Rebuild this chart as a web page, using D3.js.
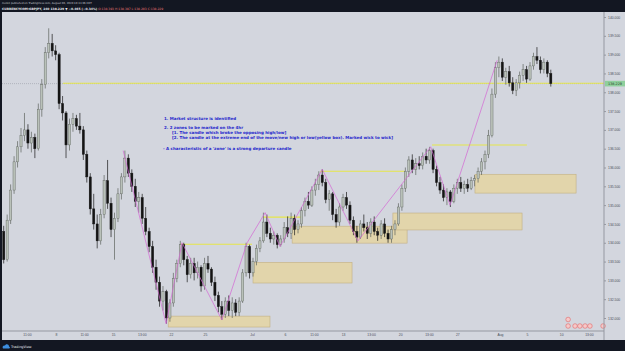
<!DOCTYPE html>
<html>
<head>
<meta charset="utf-8">
<script src="https://cdn.jsdelivr.net/npm/d3@7/dist/d3.min.js"></script>
<style>
  body { margin: 0; background: #131722; }
  svg { display: block; font-family: "DejaVu Sans", Verdana, sans-serif; }
  .axis text { fill: #4a4e59; }
  .axis line, .axis path { stroke: #9598a1; }
</style>
</head>
<body>
<div id="chart"></div>
<script>
// GBPJPY 4h (open = previous close)
const firstOpen = 134.30;
const closes = [
  133.55, 134.60, 135.40, 136.15, 136.55, 136.85, 137.00, 136.65, 136.80, 136.50,
  137.55, 138.20, 139.05, 139.30, 139.10, 139.00, 137.70, 137.45, 136.60, 137.15,
  137.30, 137.10, 137.00, 136.35, 135.75, 134.90, 134.50, 134.05, 134.75, 135.65,
  135.05, 134.35, 134.65, 135.30, 135.75, 136.25, 135.85, 135.50, 135.10, 135.20,
  134.65, 134.30, 133.90, 133.35, 132.95, 132.45, 132.70, 132.00, 132.40, 133.05,
  133.45, 133.95, 133.55, 133.15, 133.45, 133.20, 133.35, 132.85, 133.45, 133.30,
  132.95, 132.60, 132.30, 132.10, 132.45, 132.20, 132.40, 132.15, 132.45, 133.20,
  133.90, 133.20, 133.50, 133.85, 134.05, 134.55, 134.25, 134.10, 134.20, 133.95,
  134.10, 134.40, 134.25, 134.65, 134.35, 134.50, 134.85, 135.10, 135.00, 135.40,
  135.55, 135.80, 135.60, 135.15, 135.30, 134.75, 134.55, 134.95, 135.20, 135.00,
  134.60, 134.30, 134.15, 134.50, 134.40, 134.25, 134.55, 134.30, 134.20, 134.50,
  134.25, 134.10, 134.35, 134.50, 134.95, 135.45, 135.90, 136.20, 135.95, 136.10,
  136.05, 136.30, 136.20, 136.45, 135.95, 135.60, 135.40, 135.20, 135.35, 135.10,
  135.45, 135.60, 135.45, 135.55, 135.45, 135.65, 135.70, 135.90, 136.15, 136.35,
  136.85, 137.95, 138.65, 138.80, 138.40, 138.55, 138.25, 138.05, 138.25, 138.45,
  138.60, 138.35, 138.70, 138.95, 138.85, 138.60, 138.80, 138.50, 138.23
];
const highs = [
  134.45, 134.75, 135.55, 136.30, 136.70, 137.05, 137.45, 137.15, 136.95, 136.90,
  137.70, 138.35, 139.20, 139.70, 139.55, 139.25, 139.05, 137.90, 137.50, 137.30,
  137.45, 137.40, 137.45, 137.10, 136.45, 135.85, 135.30, 134.75, 134.90, 135.80,
  136.20, 135.20, 134.80, 135.45, 135.85, 136.45, 136.35, 135.95, 135.70, 135.35,
  135.30, 134.95, 134.40, 134.05, 133.55, 133.10, 132.85, 132.75, 132.50, 133.20,
  133.55, 134.05, 134.00, 133.65, 133.60, 133.60, 133.50, 133.40, 133.60, 133.65,
  133.35, 133.10, 132.70, 132.45, 132.55, 132.60, 132.55, 132.50, 132.55, 133.30,
  134.00, 133.95, 133.60, 133.95, 134.15, 134.80, 134.75, 134.40, 134.30, 134.25,
  134.20, 134.55, 134.70, 134.80, 134.75, 134.60, 134.95, 135.20, 135.35, 135.50,
  135.70, 135.90, 135.95, 135.70, 135.40, 135.35, 134.90, 135.05, 135.30, 135.35,
  135.10, 134.70, 134.45, 134.60, 134.75, 134.55, 134.65, 134.70, 134.40, 134.60,
  134.65, 134.35, 134.45, 134.60, 135.05, 135.55, 136.00, 136.30, 136.35, 136.25,
  136.30, 136.40, 136.50, 136.55, 136.50, 136.05, 135.75, 135.55, 135.45, 135.40,
  135.55, 135.70, 135.75, 135.65, 135.70, 135.75, 135.80, 136.00, 136.25, 136.45,
  137.00, 138.10, 138.80, 138.95, 138.90, 138.65, 138.70, 138.40, 138.35, 138.55,
  138.75, 138.70, 138.80, 139.05, 139.20, 138.95, 138.90, 138.85, 138.60
];
const lows = [
  133.45, 133.50, 134.50, 135.30, 136.00, 136.40, 136.70, 136.50, 136.40, 136.25,
  136.45, 137.35, 138.10, 138.90, 138.95, 138.85, 137.55, 137.25, 136.25, 136.45,
  136.95, 137.00, 136.90, 136.20, 135.60, 134.75, 134.35, 133.85, 133.95, 134.65,
  134.90, 134.15, 133.55, 134.55, 135.15, 135.60, 135.75, 135.35, 134.95, 134.80,
  134.50, 134.20, 133.75, 133.20, 132.75, 132.30, 132.20, 131.85, 131.90, 132.30,
  132.95, 133.35, 133.40, 132.95, 133.05, 133.00, 133.05, 132.70, 132.75, 133.20,
  132.85, 132.45, 132.15, 131.95, 132.00, 132.05, 132.00, 132.05, 132.05, 132.40,
  133.10, 133.05, 133.10, 133.40, 133.75, 134.00, 134.15, 134.00, 133.95, 133.85,
  133.90, 134.00, 134.15, 134.10, 134.20, 134.25, 134.40, 134.70, 134.90, 134.95,
  135.25, 135.40, 135.50, 135.05, 134.85, 134.60, 134.40, 134.45, 134.85, 134.90,
  134.50, 134.20, 134.00, 134.10, 134.30, 134.10, 134.15, 134.20, 134.05, 134.10,
  134.15, 134.00, 134.00, 134.20, 134.45, 134.85, 135.35, 135.75, 135.85, 135.80,
  135.95, 135.95, 136.10, 136.10, 135.85, 135.50, 135.30, 135.10, 135.00, 134.95,
  135.05, 135.30, 135.35, 135.30, 135.35, 135.40, 135.50, 135.60, 135.80, 135.95,
  136.25, 136.80, 137.85, 138.40, 138.30, 138.20, 138.15, 137.95, 137.90, 138.10,
  138.30, 138.25, 138.30, 138.60, 138.75, 138.50, 138.50, 138.40, 138.15
];

const lastPrice = 138.229;
const priceTicks = [132, 132.5, 133, 133.5, 134, 134.5, 135, 135.5, 136, 136.5, 137, 137.5, 138, 138.5, 139, 139.5, 140];
const timeTicks = [6.7, 15.1, 23.2, 31.6, 39.9, 48.3, 58.1, 71.7, 81.2, 89.6, 98.0, 106.1, 114.5, 122.8, 131.0, 143.3, 151.1, 161.0, 169.0];
const timeLabels = ['11:00', '8', '11:00', '15', '13:00', '22', '25', 'Jul', '6', '11:00', '13', '13:00', '20', '13:00', '27', 'Aug', '5', '10', '13:00'];

// drawings: [fromIndex, toIndex, topPrice, bottomPrice]
const zones = [
  [47.5, 76.9, 132.05, 131.76],
  [72.0, 100.6, 133.48, 132.93],
  [83.3, 116.5, 134.44, 133.99],
  [112.4, 149.7, 134.79, 134.34],
  [136.1, 165.3, 135.82, 135.32]
];
// [fromIndex, toIndex, price]
const levels = [
  [17.1, 173.4, 138.24],
  [50.9, 71.7, 133.96],
  [74.9, 86.2, 134.68],
  [91.4, 115.9, 135.90],
  [123.7, 151.1, 136.60]
];
// [index, price]
const swings = [
  [34.5, 136.45], [46.9, 131.85], [51.5, 134.00], [63.0, 131.95], [70.3, 134.00],
  [75.5, 134.80], [79.8, 133.90], [92.0, 135.95], [102.3, 134.05], [123.3, 136.55],
  [128.9, 135.00], [142.5, 138.85]
];
const events = [163.0, 165.0, 166.4, 167.9, 169.3, 173.1];

const notes = [
  '1. Market structure is identified',
  '2. 2 zones to be marked on the 4hr',
  '[1. The candle which broke the opposing high/low]',
  '[2. The candle at the extreme end of the move/new high or low(yellow box). Marked wick to wick]',
  '- A characteristic of a \'zone\' is a strong departure candle'
];

const width = 625, height = 351;
const plot = {left: 2, right: 604, top: 12, bottom: 331};

const candles = closes.map((c, i) => ({
  i: i,
  o: i === 0 ? firstOpen : closes[i - 1],
  h: highs[i],
  l: lows[i],
  c: c
}));

const x = d3.scaleLinear().domain([0, 158]).range([3.7, 550.8]);
const y = d3.scaleLinear().domain([132, 140]).range([318, 17]);

const svg = d3.select('#chart')
  .append('svg')
  .attr('width', width)
  .attr('height', height);

// frame
svg.append('rect').attr('width', width).attr('height', height).attr('fill', '#131722');
svg.append('rect')
  .attr('x', plot.left).attr('y', plot.top)
  .attr('width', width - plot.left).attr('height', 340 - plot.top)
  .attr('fill', '#d3d6de');

svg.append('defs').append('clipPath').attr('id', 'clip')
  .append('rect')
  .attr('x', plot.left).attr('y', plot.top)
  .attr('width', plot.right - plot.left).attr('height', plot.bottom - plot.top);

const main = svg.append('g').attr('clip-path', 'url(#clip)');

// current price line
main.append('line')
  .attr('x1', plot.left).attr('x2', plot.right)
  .attr('y1', y(lastPrice)).attr('y2', y(lastPrice))
  .attr('stroke', '#9a9ea8').attr('stroke-width', 0.6)
  .attr('stroke-dasharray', '1,1');

// zones
main.selectAll('.zone')
  .data(zones)
  .enter().append('rect')
  .attr('class', 'zone')
  .attr('x', d => x(d[0]))
  .attr('y', d => y(d[2]))
  .attr('width', d => x(d[1]) - x(d[0]))
  .attr('height', d => y(d[3]) - y(d[2]))
  .attr('fill', '#e2d5ab')
  .attr('stroke', '#c2b083')
  .attr('stroke-width', 0.6);

// levels
main.selectAll('.level')
  .data(levels)
  .enter().append('line')
  .attr('class', 'level')
  .attr('x1', d => x(d[0])).attr('x2', d => x(d[1]))
  .attr('y1', d => y(d[2])).attr('y2', d => y(d[2]))
  .attr('stroke', '#e6e64a')
  .attr('stroke-width', 1.1);

// candles
const candle = main.selectAll('.candle')
  .data(candles)
  .enter().append('g')
  .attr('class', 'candle');

candle.append('line')
  .attr('x1', d => x(d.i)).attr('x2', d => x(d.i))
  .attr('y1', d => y(d.h)).attr('y2', d => y(d.l))
  .attr('stroke', d => d.c >= d.o ? '#5d635d' : '#1a1a1a')
  .attr('stroke-width', 0.7);

candle.append('rect')
  .attr('x', d => x(d.i) - 1.1)
  .attr('y', d => y(Math.max(d.o, d.c)))
  .attr('width', 2.2)
  .attr('height', d => Math.max(0.7, Math.abs(y(d.o) - y(d.c))))
  .attr('fill', d => d.c >= d.o ? '#b9c1b9' : '#141414')
  .attr('stroke', d => d.c >= d.o ? '#5d635d' : '#141414')
  .attr('stroke-width', 0.4);

// market structure zigzag
main.append('path')
  .datum(swings)
  .attr('fill', 'none')
  .attr('stroke', '#d466d4')
  .attr('stroke-width', 0.7)
  .attr('d', d3.line().x(d => x(d[0])).y(d => y(d[1])));

// notes
const noteX = [164, 164, 172, 172, 163];
const noteY = [119.5, 128.5, 133.5, 139, 149.5];
svg.append('g')
  .selectAll('text')
  .data(notes)
  .enter().append('text')
  .attr('x', (d, i) => noteX[i])
  .attr('y', (d, i) => noteY[i])
  .attr('font-size', 4)
  .attr('font-weight', 'bold')
  .attr('fill', '#2626cc')
  .text(d => d);

// events
svg.append('g')
  .selectAll('circle')
  .data(events)
  .enter().append('circle')
  .attr('cx', d => x(d))
  .attr('cy', 326)
  .attr('r', 2.3)
  .attr('fill', '#f6c9c9')
  .attr('stroke', '#e06666')
  .attr('stroke-width', 0.6);
svg.append('circle')
  .attr('cx', x(events[0])).attr('cy', 319.5).attr('r', 2.3)
  .attr('fill', '#f6c9c9').attr('stroke', '#e06666').attr('stroke-width', 0.6);

// axes
const yAxis = svg.append('g')
  .attr('class', 'axis')
  .attr('transform', 'translate(' + plot.right + ',0)')
  .call(d3.axisRight(y).tickValues(priceTicks).tickFormat(d3.format('.3f')).tickSize(2).tickPadding(2));
yAxis.select('.domain').attr('d', 'M0,' + plot.top + 'V340');
yAxis.selectAll('text').attr('font-size', 3.4);

const xAxis = svg.append('g')
  .attr('class', 'axis')
  .attr('transform', 'translate(0,' + plot.bottom + ')')
  .call(d3.axisBottom(x).tickValues(timeTicks).tickFormat((d, i) => timeLabels[i]).tickSize(0).tickPadding(3));
xAxis.select('.domain').attr('d', 'M' + plot.left + ',0H' + plot.right);
xAxis.selectAll('text').attr('font-size', 3.4);

// last price badge
svg.append('rect')
  .attr('x', plot.right + 1).attr('y', y(lastPrice) - 2.8)
  .attr('width', 20).attr('height', 5.6)
  .attr('fill', '#8fcf9c');
svg.append('text')
  .attr('x', plot.right + 11).attr('y', y(lastPrice) + 1.2)
  .attr('text-anchor', 'middle')
  .attr('font-size', 3.4)
  .attr('fill', '#1e3a24')
  .text(d3.format('.3f')(lastPrice));

// header
svg.append('text')
  .attr('x', 2).attr('y', 4)
  .attr('font-size', 2.6)
  .attr('fill', '#c9ccd4')
  .text('melkit published on TradingView.com, August 06, 2020 10:33:06 EDT');
const head = svg.append('text')
  .attr('x', 2).attr('y', 9.5)
  .attr('font-size', 3)
  .attr('fill', '#e6e8ee');
head.append('tspan').attr('font-weight', 'bold').text('CURRENCYCOM:GBPJPY, 240 138.229 ▼ −0.465 (−0.34%) ');
head.append('tspan').attr('fill', '#ef7a7a').text('O:138.393 H:138.397 L:138.203 C:138.229');

// footer
svg.append('path')
  .attr('d', 'M3,348.5 C2,347 3,345 5,345.5 C6,343.5 9,344 9,346.5 C10.5,347 10,348.5 9,348.5 Z')
  .attr('fill', '#3d8fe0');
svg.append('text')
  .attr('x', 11).attr('y', 348.2)
  .attr('font-size', 3.4)
  .attr('fill', '#e6e8ee')
  .text('TradingView');
</script>
</body>
</html>
